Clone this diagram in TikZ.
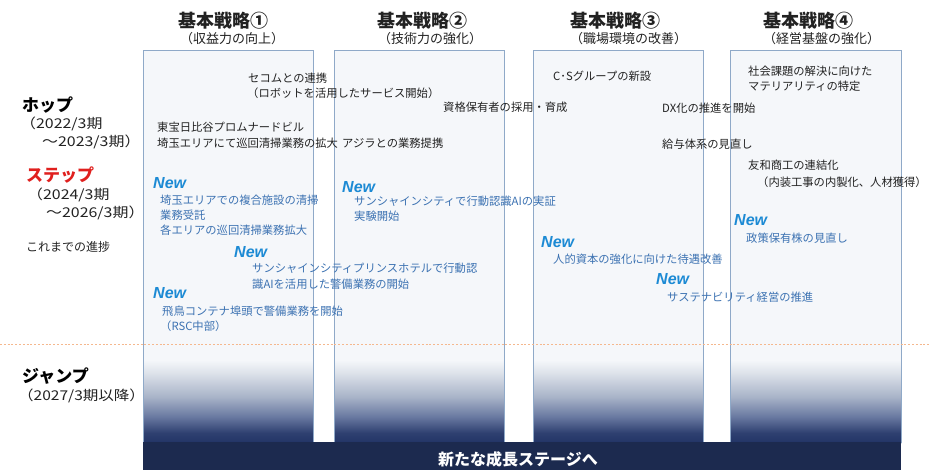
\documentclass[tikz,border=0pt]{standalone}
\usepackage{fontspec}
\setmainfont{Liberation Sans}
\newfontfamily\jp{Noto Sans CJK JP}
\newfontfamily\newf{Liberation Sans}
\definecolor{boxline}{HTML}{8FA9C8}
\definecolor{boxfill}{HTML}{F5F7FA}
\definecolor{gA}{HTML}{223466}
\definecolor{gB}{HTML}{2E4070}
\definecolor{gC}{HTML}{6878A0}
\definecolor{gD}{HTML}{A8B3C8}
\definecolor{gE}{HTML}{DDE2EA}
\definecolor{barnavy}{HTML}{1C2A4F}
\definecolor{itemblue}{HTML}{3C72B2}
\definecolor{newblue}{HTML}{1C8AD4}
\definecolor{dashor}{HTML}{F5B88E}
\definecolor{stepred}{HTML}{E0201E}
\definecolor{ink}{HTML}{222222}
\pgfdeclareverticalshading{colgrad}{100bp}{color(0bp)=(gA); color(25bp)=(gA); color(30.5bp)=(gB); color(39.3bp)=(gC); color(50.3bp)=(gD); color(63.5bp)=(gE); color(70.6bp)=(boxfill); color(75bp)=(boxfill); color(100bp)=(boxfill)}
\begin{document}
\begin{tikzpicture}[x=1pt,y=-1pt,
  txt/.style={anchor=west,inner sep=0pt,text=ink,font=\jp\fontsize{11.3}{13}\selectfont},
  btxt/.style={txt,text=itemblue},
  newl/.style={anchor=west,inner sep=0pt,text=newblue,font=\newf\bfseries\itshape\fontsize{16}{16}\selectfont},
  head/.style={anchor=west,inner sep=0pt,text=ink,font=\jp\bfseries\fontsize{18}{18}\selectfont},
  sub/.style={anchor=west,inner sep=0pt,text=ink,font=\jp\fontsize{13}{13}\selectfont},
  phase/.style={anchor=west,inner sep=0pt,text=black,font=\jp\bfseries\fontsize{17}{17}\selectfont},
  period/.style={anchor=west,inner sep=0pt,text=ink,font=\jp\fontsize{13.5}{14}\selectfont}]
\useasboundingbox (0,0) rectangle (931,470);
\fill[white] (0,0) rectangle (931,470);
% columns
\foreach \xa/\xb in {143/313,334/504,533/703,730/901}{
  \fill[boxfill] (\xa,50) rectangle (\xb,352);
  \shade[shading=colgrad] (\xa,352) rectangle (\xb,443);
  \draw[boxline,line width=0.8pt] (\xa,443) -- (\xa,50) -- (\xb,50) -- (\xb,443);
}
% dashed separator
\draw[dashor,line width=0.9pt,dash pattern=on 2pt off 1.8pt] (0,344) -- (931,344);
% bottom bar
\fill[barnavy] (143,442) rectangle (901,470);
\node[inner sep=0pt,text=white,font=\jp\bfseries\fontsize{16}{16}\selectfont] (bar) at (518,459) {新たな成長ステージへ};
% headers
\node[head] (h1) at (178,21) {基本戦略①};
\node[sub]  (s1) at (180,39) {（収益力の向上）};
\node[head] (h2) at (377,21) {基本戦略②};
\node[sub]  (s2) at (378,39) {（技術力の強化）};
\node[head] (h3) at (570,21) {基本戦略③};
\node[sub]  (s3) at (570,39) {（職場環境の改善）};
\node[head] (h4) at (763,21) {基本戦略④};
\node[sub]  (s4) at (763,39) {（経営基盤の強化）};
% left labels
\node[phase] (hop) at (22,105) {ホップ};
\node[period] (hop1) at (20,124) {\scalebox{1.18}[1]{（2022/3期}};
\node[period] (hop2) at (42,142) {\scalebox{1.18}[1]{～2023/3期）}};
\node[phase,text=stepred] (step) at (26,175) {ステップ};
\node[period] (st1) at (27,195) {\scalebox{1.18}[1]{（2024/3期}};
\node[period] (st2) at (46,213) {\scalebox{1.18}[1]{～2026/3期）}};
\node[txt,font=\jp\fontsize{12}{13}\selectfont] (prog) at (26,247) {これまでの進捗};
\node[phase] (jump) at (22,376) {ジャンプ};
\node[period] (jp1) at (18,396) {\scalebox{1.15}[1]{（2027/3期以降）}};
% hop items (black)
\node[txt] (t1) at (248,78) {セコムとの連携};
\node[txt] (t2) at (247,93) {（ロボットを活用したサービス開始）};
\node[txt] (t3) at (157,127) {東宝日比谷プロムナードビル};
\node[txt] (t4) at (157,143) {埼玉エリアにて巡回清掃業務の拡大};
\node[txt] (t5) at (342,143) {アジラとの業務提携};
\node[txt] (t6) at (443,107) {資格保有者の採用・育成};
\node[txt] (t7) at (553,76) {C･Sグループの新設};
\node[txt] (t8) at (662,108) {DX化の推進を開始};
\node[txt] (t9) at (662,144) {給与体系の見直し};
\node[txt] (t10) at (748,71) {社会課題の解決に向けた};
\node[txt] (t11) at (748,86) {マテリアリティの特定};
\node[txt] (t12) at (748,165) {友和商工の連結化};
\node[txt] (t13) at (757,182) {（内装工事の内製化、人材獲得）};
% step items (blue)
\node[newl] (n1) at (153,183) {New};
\node[btxt] (b1) at (160,200) {埼玉エリアでの複合施設の清掃};
\node[btxt] (b2) at (160,215) {業務受託};
\node[btxt] (b3) at (160,230) {各エリアの巡回清掃業務拡大};
\node[newl] (n2) at (234,252) {New};
\node[btxt] (b4) at (252,268) {サンシャインシティプリンスホテルで行動認};
\node[btxt] (b5) at (252,284) {識AIを活用した警備業務の開始};
\node[newl] (n3) at (153,293) {New};
\node[btxt] (b6) at (162,311) {飛鳥コンテナ埠頭で警備業務を開始};
\node[btxt] (b7) at (160,326) {（RSC中部）};
\node[newl] (n4) at (342,187) {New};
\node[btxt] (b8) at (354,201) {サンシャインシティで行動認識AIの実証};
\node[btxt] (b9) at (354,216) {実験開始};
\node[newl] (n5) at (541,242) {New};
\node[btxt] (b10) at (553,259) {人的資本の強化に向けた待遇改善};
\node[newl] (n6) at (656,279) {New};
\node[btxt] (b11) at (667,297) {サステナビリティ経営の推進};
\node[newl] (n7) at (734,220) {New};
\node[btxt] (b12) at (746,238) {政策保有株の見直し};
\end{tikzpicture}
\end{document}
